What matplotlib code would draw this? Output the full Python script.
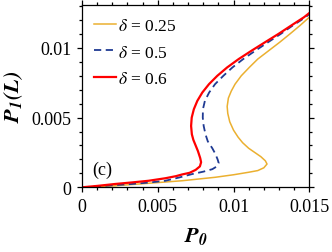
import matplotlib
matplotlib.use("Agg")
import matplotlib.pyplot as plt
from matplotlib.ticker import MultipleLocator

# --- data (P0 on x, P1(L) on y) ---
p0_d025 = [0, 0.0022, 0.0044, 0.0066, 0.0088, 0.0100, 0.0110, 0.0116, 0.0120,
           0.01221, 0.0121, 0.0118, 0.0114, 0.0110, 0.0106, 0.0103, 0.0100,
           0.00975, 0.00962, 0.00958, 0.00966, 0.00985, 0.0101, 0.01051, 0.01104,
           0.0116, 0.01232, 0.01304, 0.01372, 0.01438, 0.0150]
p1_d025 = [0, 0.00011, 0.00029, 0.00047, 0.00072, 0.0009, 0.00108, 0.0012, 0.0014,
           0.00167, 0.0019, 0.0022, 0.0025, 0.0028, 0.0032, 0.0036, 0.0041,
           0.0047, 0.0053, 0.0058, 0.0064, 0.0069, 0.0074, 0.0080, 0.0086,
           0.0092, 0.0098, 0.0104, 0.0110, 0.0116, 0.0122]

p0_d05 = [0, 0.0011, 0.0022, 0.0033, 0.0044, 0.0055, 0.0064, 0.00727, 0.0080,
          0.0086, 0.0089, 0.00902, 0.00895, 0.0088, 0.0086, 0.0083, 0.00815,
          0.00803, 0.00797, 0.00798, 0.00811, 0.00839, 0.00878, 0.00933, 0.00993,
          0.01064, 0.01144, 0.01227, 0.01311, 0.0139, 0.01475, 0.0150]
p1_d05 = [0, 0.00008, 0.00016, 0.00024, 0.00034, 0.00047, 0.0007, 0.00095, 0.00112,
          0.0013, 0.0015, 0.00175, 0.0020, 0.0024, 0.0028, 0.0033, 0.0038,
          0.0044, 0.0050, 0.0056, 0.0062, 0.0068, 0.0074, 0.0080, 0.0086,
          0.0092, 0.0098, 0.0104, 0.0110, 0.0116, 0.0122, 0.01243]

p0_d06 = [0, 0.0010, 0.0022, 0.0033, 0.0044, 0.0055, 0.0062, 0.0066, 0.0071,
          0.0075, 0.00778, 0.00786, 0.0078, 0.00765, 0.0075, 0.00735, 0.00725,
          0.0072, 0.00724, 0.00738, 0.00761, 0.00794, 0.00838, 0.00893, 0.00958,
          0.01034, 0.01119, 0.01207, 0.01296, 0.0138, 0.01465, 0.0150]
p1_d06 = [0, 0.0001, 0.00024, 0.00035, 0.00047, 0.00065, 0.0008, 0.00092, 0.00104,
          0.00125, 0.0015, 0.0018, 0.0021, 0.0026, 0.0030, 0.0034, 0.0038,
          0.0044, 0.0050, 0.0056, 0.0062, 0.0068, 0.0074, 0.0080, 0.0086,
          0.0092, 0.0098, 0.0104, 0.0110, 0.0116, 0.0122, 0.0125]

labels = [r"$\delta$ = 0.25", r"$\delta$ = 0.5", r"$\delta$ = 0.6"]
x_ticks = [0, 0.005, 0.01, 0.015]
x_ticklabels = ["0", "0.005", "0.01", "0.015"]
y_ticks = [0, 0.005, 0.01]
y_ticklabels = ["0", "0.005", "0.01"]

plt.rcParams['font.family'] = ['Liberation Serif', 'DejaVu Serif']
plt.rcParams['mathtext.fontset'] = 'stix'

fig = plt.figure(figsize=(3.32, 2.53), dpi=100)
ax = fig.add_axes([0.247, 0.2557, 0.6846, 0.7218])

ax.plot(p0_d025, p1_d025, color='#EBB030', lw=1.1, label=labels[0])
ax.plot(p0_d05, p1_d05, color='#1F3A93', lw=1.3, ls=(0, (4, 2.5)), label=labels[1])
ax.plot(p0_d06, p1_d06, color='#FF0000', lw=1.6, label=labels[2])

ax.set_xlim(0, 0.015)
ax.set_ylim(0, 0.0131)
ax.set_xticks(x_ticks)
ax.set_xticklabels(x_ticklabels)
ax.set_yticks(y_ticks)
ax.set_yticklabels(y_ticklabels)
ax.xaxis.set_minor_locator(MultipleLocator(0.001))
ax.yaxis.set_minor_locator(MultipleLocator(0.001))
ax.tick_params(which='both', direction='out', top=True, right=True,
               labeltop=False, labelright=False, width=0.9, labelsize=13, pad=4)
ax.tick_params(which='major', length=3.6)
ax.tick_params(which='minor', length=2.4)
for s in ax.spines.values():
    s.set_linewidth(0.9)

ax.set_xlabel(r"$\mathbfit{P}_\mathbfit{0}$", fontsize=16, labelpad=7)
ax.set_ylabel(r"$\mathbfit{P}_\mathbfit{1}\mathbfit{(L)}$", fontsize=16, labelpad=5)

ax.text(0.044, 0.10, "(c)", transform=ax.transAxes, fontsize=13, va='center')

ax.legend(loc='upper left', bbox_to_anchor=(0.005, 0.985), frameon=False,
          fontsize=12.5, handlelength=1.3, handletextpad=0.1,
          labelspacing=0.6, borderaxespad=0.2)

fig.savefig("out.png", dpi=100)
